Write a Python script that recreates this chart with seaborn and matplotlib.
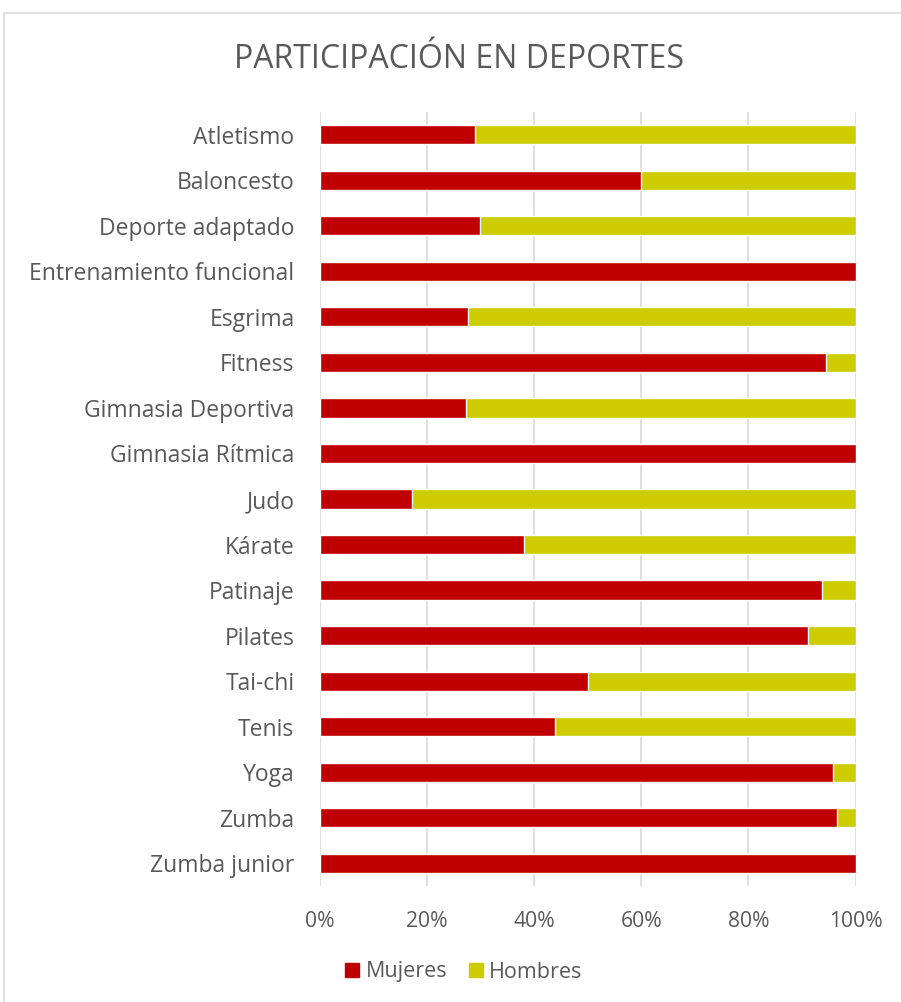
import pandas as pd
import matplotlib.pyplot as plt
import matplotlib.patches as mpatches
import seaborn as sns

# Chart data (percent of participants)
deportes = ["Atletismo", "Baloncesto", "Deporte adaptado", "Entrenamiento funcional",
            "Esgrima", "Fitness", "Gimnasia Deportiva", "Gimnasia Rítmica", "Judo",
            "Kárate", "Patinaje", "Pilates", "Tai-chi", "Tenis", "Yoga", "Zumba",
            "Zumba junior"]
mujeres = [29.0, 60.0, 30.0, 100.0, 27.7, 94.5, 27.3, 100.0, 17.3,
           38.2, 93.8, 91.1, 50.0, 43.9, 95.8, 96.6, 100.0]
hombres = [71.0, 40.0, 70.0, 0.0, 72.3, 5.5, 72.7, 0.0, 82.7,
           61.8, 6.2, 8.9, 50.0, 56.1, 4.2, 3.4, 0.0]
xticks = [0, 20, 40, 60, 80, 100]

ROJO = "#C00000"
AMARILLO = "#CCCC00"
TEXTO = "#595959"

sns.set_theme(style="white")
plt.rcParams['font.family'] = ['Open Sans', 'DejaVu Sans']

df = pd.DataFrame({"deporte": deportes, "mujeres": mujeres, "hombres": hombres})
df["total"] = df["mujeres"] + df["hombres"]

fig = plt.figure(figsize=(9.01, 10.02), dpi=100)
ax = fig.add_axes([319.5 / 901, 1 - 886 / 1002, 536 / 901, 774 / 1002])

# stacked bars: total first (yellow), then women on top (red)
sns.barplot(data=df, x="total", y="deporte", orient="h", color=AMARILLO,
            saturation=1, width=0.42, ax=ax)
sns.barplot(data=df, x="mujeres", y="deporte", orient="h", color=ROJO,
            saturation=1, width=0.42, ax=ax)

ax.set_xlim(0, 100)
ax.set_ylim(len(deportes) - 0.5, -0.5)
ax.set_xticks(xticks)
ax.set_xticklabels([f"{v}%" for v in xticks])
ax.set_xlabel("")
ax.set_ylabel("")
ax.grid(axis="x", color="#D9D9D9", linewidth=1.2)
ax.set_axisbelow(True)
for s in ax.spines.values():
    s.set_visible(False)
ax.tick_params(axis="y", length=0, pad=18, labelsize=16.5, labelcolor=TEXTO)
ax.tick_params(axis="x", length=0, pad=18, labelsize=15.2, labelcolor=TEXTO)

fig.text(459 / 901, 1 - 59 / 1002, "PARTICIPACIÓN EN DEPORTES", ha="center",
         va="center", fontsize=23, color=TEXTO)

handles = [mpatches.Patch(color=ROJO, label="Mujeres"),
           mpatches.Patch(color=AMARILLO, label="Hombres")]
fig.legend(handles=handles, loc="center", bbox_to_anchor=(464 / 901, 1 - 972 / 1002),
           ncol=2, frameon=False, fontsize=15.5, labelcolor=TEXTO,
           handlelength=0.65, handleheight=0.65, handletextpad=0.3, columnspacing=1.0)

# light border around the chart area
fig.patches.append(mpatches.Rectangle((4 / 901, -0.01), 1.0, 1 - 13 / 1002 + 0.01,
                                      transform=fig.transFigure, fill=False,
                                      edgecolor="#D9D9D9", linewidth=1.2))

fig.savefig("out.png", dpi=100)
